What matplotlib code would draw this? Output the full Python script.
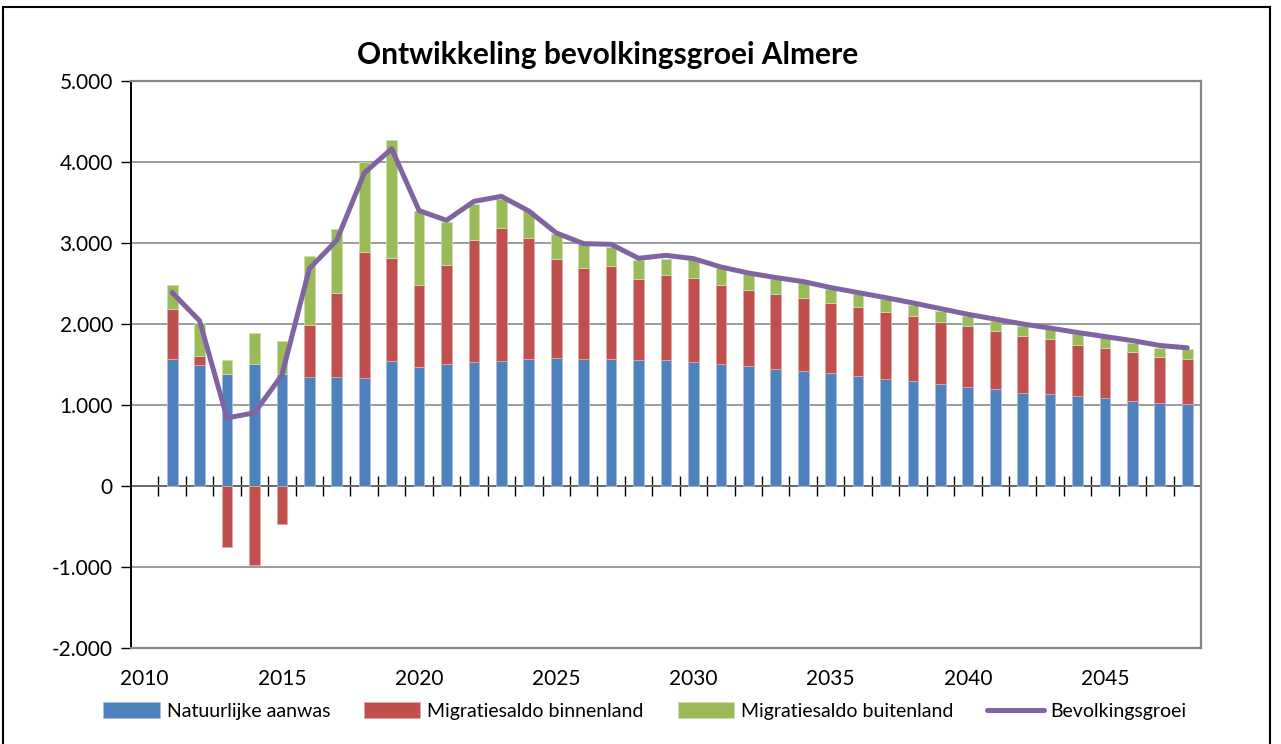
import numpy as np
import matplotlib
matplotlib.use("Agg")
import matplotlib.pyplot as plt
from matplotlib.ticker import FuncFormatter
from matplotlib.patches import Rectangle

plt.rcParams['font.family'] = ['Lato', 'DejaVu Sans']

# data (2011-2048)
years = list(range(2011, 2049))
natuurlijk = [1562, 1488, 1381, 1508, 1385, 1340, 1340, 1328,
              1549, 1475, 1512, 1537, 1549, 1570, 1582, 1570, 1570, 1558,
              1558, 1533, 1508, 1480, 1447, 1418, 1389, 1360, 1323, 1291,
              1254, 1225, 1192, 1151, 1138, 1106, 1081, 1048, 1028, 1015]
binnenland = [620, 119, -757, -971, -473, 645, 1044, 1561,
              1262, 1003, 1221, 1504, 1640, 1492, 1217, 1122, 1147, 998,
              1048, 1036, 979, 945, 929, 904, 872, 851, 822, 809,
              772, 748, 719, 707, 675, 637, 621, 608, 567, 547]
buitenland = [305, 411, 173, 383, 411, 855, 785, 1110,
              1463, 913, 526, 436, 358, 329, 316, 292, 234, 239,
              201, 221, 203, 190, 184, 183, 174, 159, 165, 132,
              139, 127, 129, 123, 127, 137, 119, 112, 113, 135]
groei = [2388, 2040, 840, 904, 1369, 2684, 3033, 3863,
         4163, 3400, 3280, 3514, 3576, 3395, 3124, 2992, 2984, 2811,
         2848, 2807, 2704, 2630, 2573, 2524, 2450, 2388, 2326, 2260,
         2190, 2120, 2060, 2000, 1950, 1895, 1845, 1795, 1735, 1706]
label_years = [2010, 2015, 2020, 2025, 2030, 2035, 2040, 2045]

blauw, rood, groen, paars = '#4F81BD', '#C0504D', '#9BBB59', '#8064A2'

fig = plt.figure(figsize=(12.81, 7.44), dpi=100)
ax = fig.add_axes([131 / 1281, 1 - 648 / 744, 1070 / 1281, 567 / 744])

nat = np.array(natuurlijk)
bin_ = np.array(binnenland)
bui = np.array(buitenland)

# excel style stacking: negatives go below zero, positives on top
bin_bottom = np.where(bin_ >= 0, nat, 0)
bui_bottom = nat + np.clip(bin_, 0, None)

w = 0.39
b1 = ax.bar(years, nat, w, color=blauw, edgecolor='#a7c0de', linewidth=0.6, label='Natuurlijke aanwas', zorder=2)
b2 = ax.bar(years, bin_, w, bottom=bin_bottom, color=rood, edgecolor='#dfa8a6', linewidth=0.6,
            label='Migratiesaldo binnenland', zorder=2)
b3 = ax.bar(years, bui, w, bottom=bui_bottom, color=groen, edgecolor='#cddcac', linewidth=0.6,
            label='Migratiesaldo buitenland', zorder=2)
l1, = ax.plot(years, groei, color=paars, linewidth=3.6, solid_capstyle='round', solid_joinstyle='round',
              label='Bevolkingsgroei', zorder=3)

ax.set_xlim(2009.5, 2048.5)
ax.set_ylim(-2000, 5000)
ax.set_yticks(range(-2000, 5001, 1000))
ax.yaxis.set_major_formatter(FuncFormatter(lambda v, p: f"{v:,.0f}".replace(',', '.')))
ax.grid(axis='y', color='#808080', linewidth=1.1, zorder=0)
ax.set_axisbelow(True)

ax.set_xticks(label_years)
ax.tick_params(axis='x', length=0, labelsize=15, pad=15)
ax.tick_params(axis='y', length=7, width=1, direction='out', labelsize=15, pad=6, color='black')

for s in ['top', 'right', 'bottom']:
    ax.spines[s].set_color('#868686')
    ax.spines[s].set_linewidth(1.6)
ax.spines['left'].set_color('black')
ax.spines['left'].set_linewidth(1.4)

# zero axis with category tick marks
sec = ax.secondary_xaxis(0, transform=ax.transData)
sec.set_xticks(np.arange(2010.5, 2048, 1))
sec.set_xticklabels([])
sec.tick_params(axis='x', direction='inout', length=14, width=1, color='black')
sec.spines['bottom'].set_color('black')
sec.spines['bottom'].set_linewidth(1.2)

fig.text(0.474, 1 - 55 / 744, 'Ontwikkeling bevolkingsgroei Almere', ha='center', va='center',
         fontsize=21.5, fontweight='bold')

fig.legend(handles=[b1, b2, b3, l1], loc='center', bbox_to_anchor=(0.5035, 1 - 711 / 744), ncol=4,
           frameon=False, fontsize=14, handlelength=2.9, handleheight=0.9, handletextpad=0.35,
           columnspacing=1.75)

fig.patches.append(Rectangle((3 / 1281, -0.02), 1267 / 1281, 1.02 - 7 / 744, transform=fig.transFigure,
                             fill=False, edgecolor='black', linewidth=1.5))

fig.savefig('out.png', dpi=100)
